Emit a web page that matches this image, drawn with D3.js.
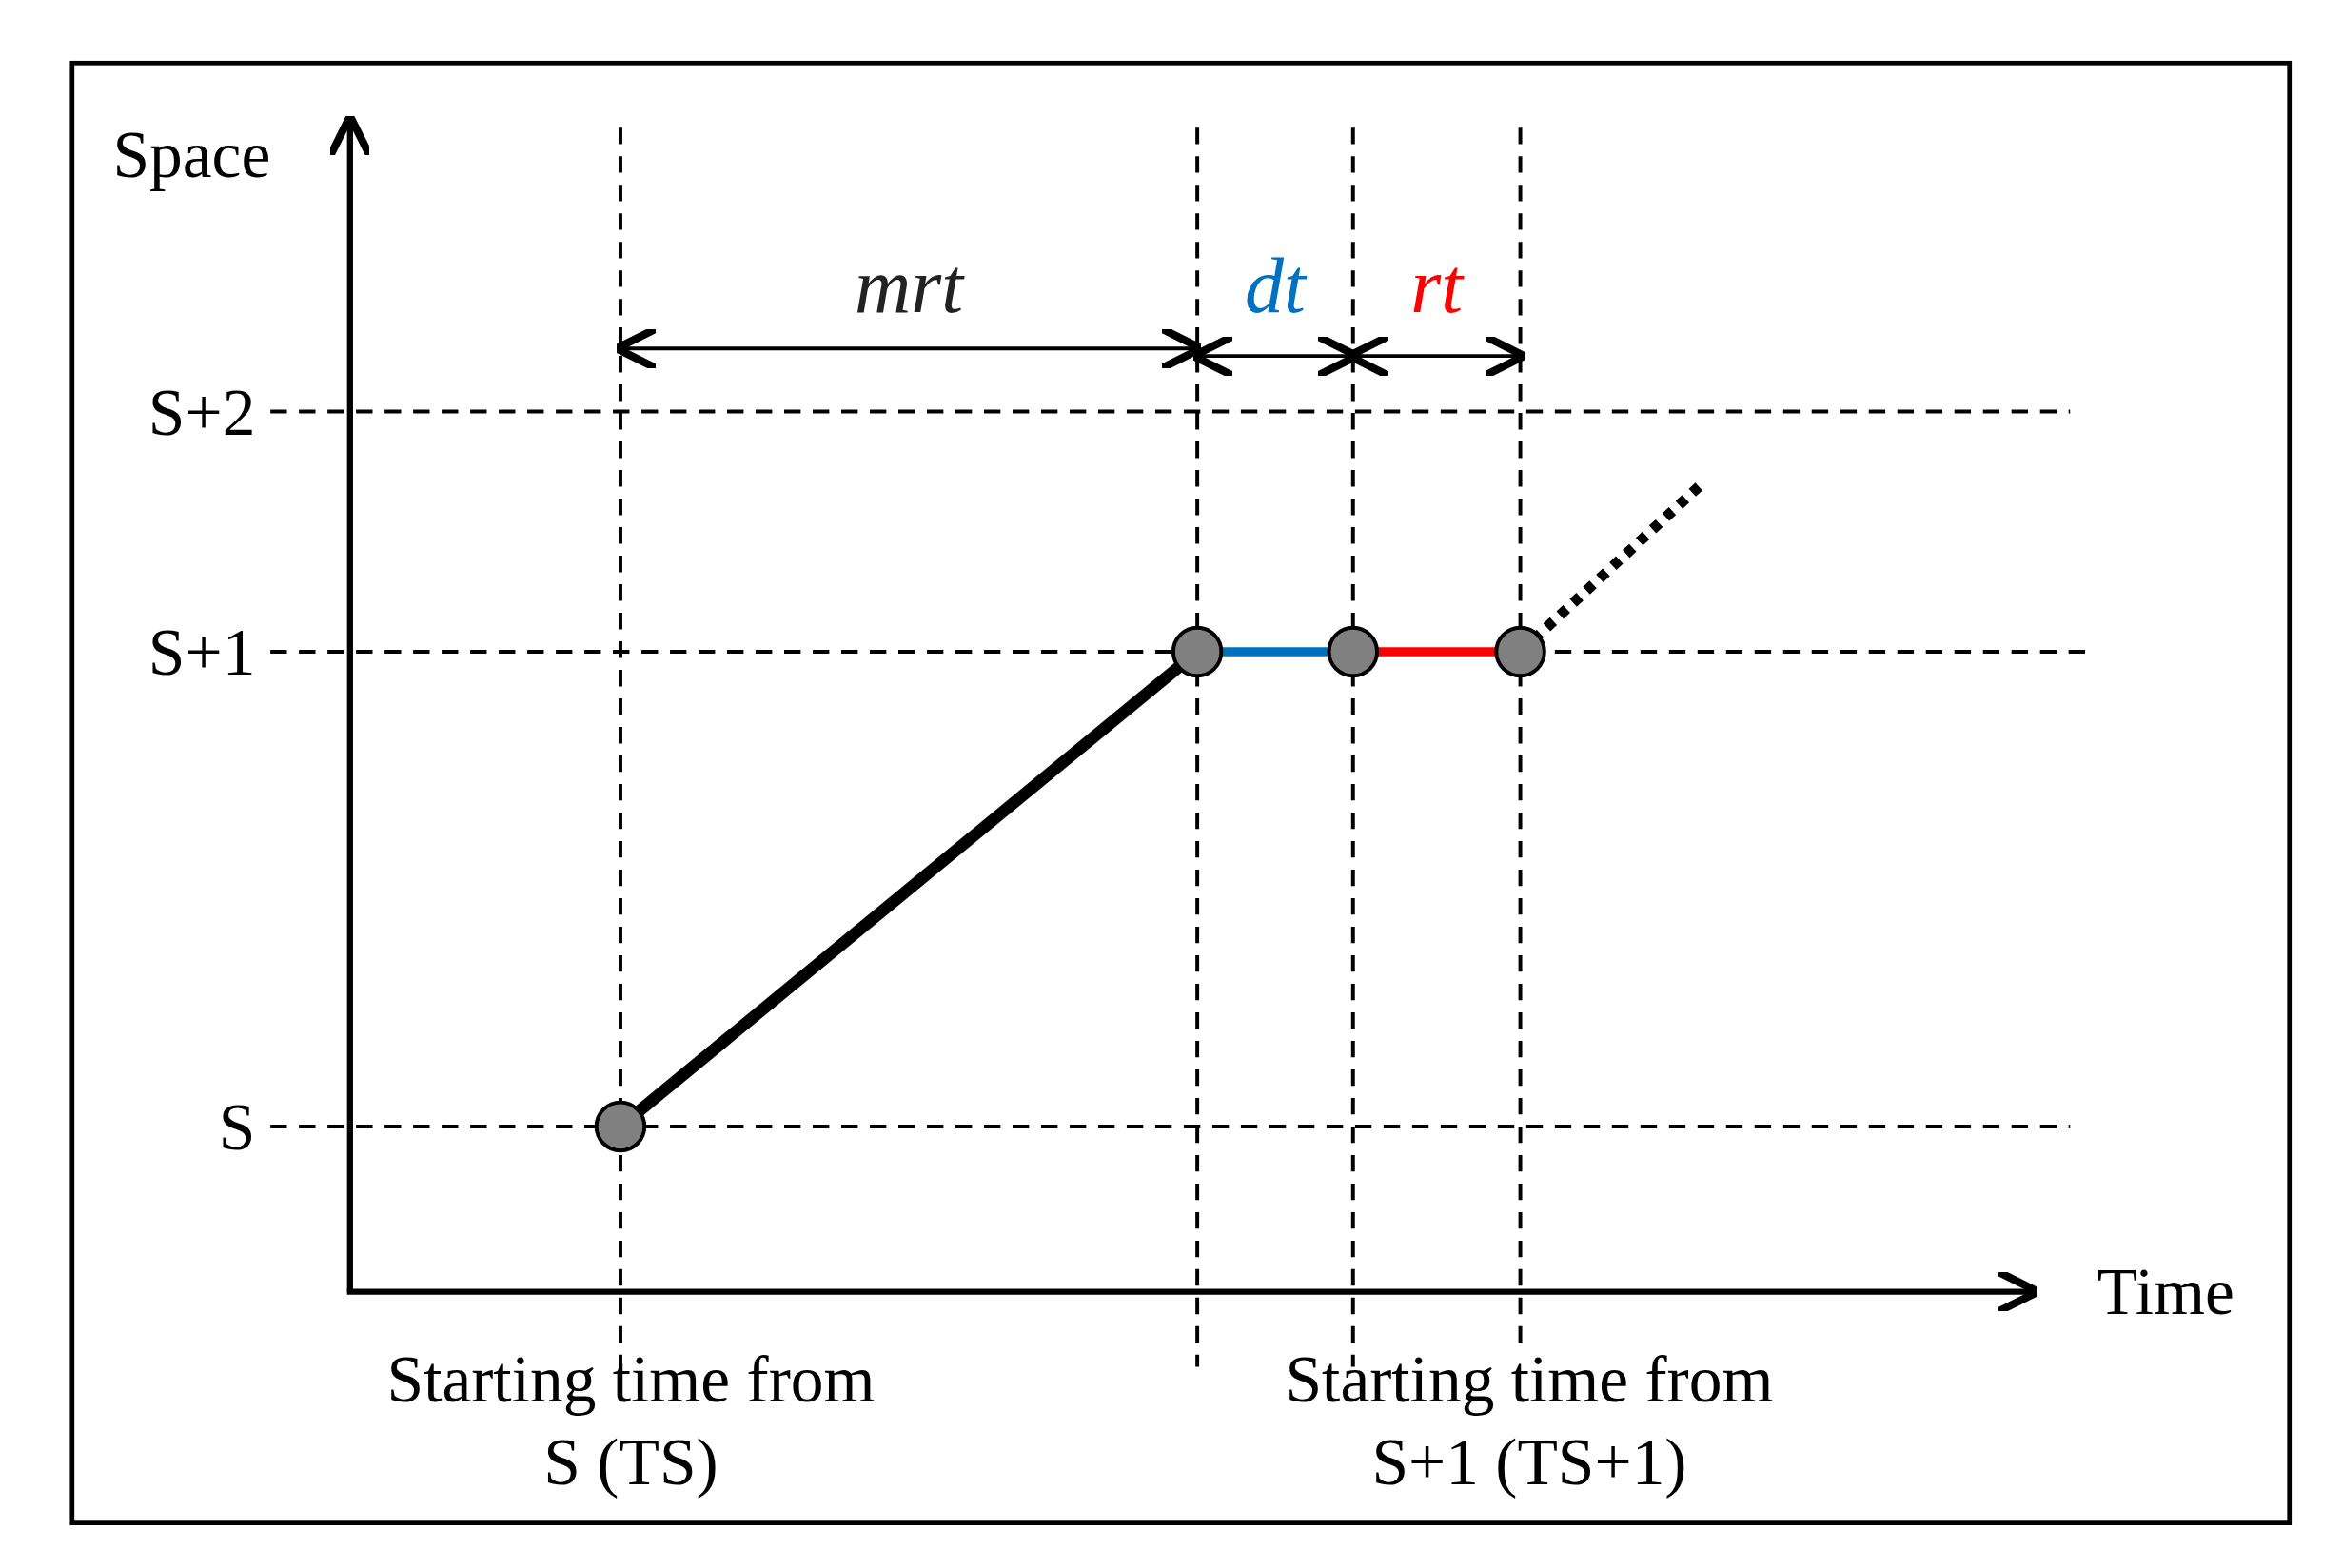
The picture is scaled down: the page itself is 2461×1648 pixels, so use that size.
<!DOCTYPE html>
<html><head><meta charset="utf-8">
<script src="https://cdn.jsdelivr.net/npm/d3@7"></script>
<style>body{margin:0;background:#fff}</style>
</head><body>
<script>
// time instants: TS, TS+mrt, +dt, +rt (TS+1)
const timePoints = [0, 10, 12.7, 15.6];
const spaceLevels = [0, 1, 2];
const spaceLabels = ["S", "S+1", "S+2"];
const trajectory = [[0, 0], [10, 1], [12.7, 1], [15.6, 1]];
const intervals = [
  { label: "mrt", from: 0, to: 10, color: "#222" },
  { label: "dt", from: 10, to: 12.7, color: "#0070c0" },
  { label: "rt", from: 12.7, to: 15.6, color: "#ff0000" }
];
const segColors = ["#000", "#0070c0", "#ff0000"];

const W = 1559, H = 1044;
const svg = d3.select("body").append("svg")
  .attr("width", 2461).attr("height", 1648)
  .attr("viewBox", `0 0 ${W} ${H}`)
  .style("font-family", "'Liberation Serif', 'DejaVu Serif', serif");

const x = d3.scaleLinear().domain([0, 10]).range([413, 797]);
const y = d3.scaleLinear().domain([0, 1, 2]).range([750, 434, 274]);
const x0 = 233, y0 = 860;

svg.append("defs").append("marker").attr("id", "ah")
  .attr("viewBox", "0 0 10 10").attr("refX", 9).attr("refY", 5)
  .attr("markerWidth", 26).attr("markerHeight", 26).attr("orient", "auto-start-reverse")
  .attr("markerUnits", "userSpaceOnUse")
  .append("path").attr("d", "M0,0 L10,5 L0,10").attr("fill", "none").attr("stroke", "#000").attr("stroke-width", 2);

svg.append("rect").attr("x", 48).attr("y", 42).attr("width", 1476).attr("height", 972)
  .attr("fill", "none").attr("stroke", "#000").attr("stroke-width", 3);

// horizontal dashed
const hEnd = [1378, 1390, 1378];
spaceLevels.forEach((s, i) => {
  svg.append("line").attr("x1", 180).attr("x2", hEnd[i]).attr("y1", y(s)).attr("y2", y(s))
    .attr("stroke", "#000").attr("stroke-width", 2.5).attr("stroke-dasharray", "11,8");
  svg.append("text").attr("x", 170).attr("y", y(s)).attr("dy", "0.35em")
    .attr("text-anchor", "end").attr("font-size", 44).text(spaceLabels[i]);
});
// vertical dashed
const vEnd = [935, 910, 910, 900];
timePoints.forEach((t, i) => {
  svg.append("line").attr("x1", x(t)).attr("x2", x(t)).attr("y1", 85).attr("y2", vEnd[i])
    .attr("stroke", "#000").attr("stroke-width", 2.5).attr("stroke-dasharray", "11,8");
});

// axes
svg.append("line").attr("x1", x0).attr("y1", y0).attr("x2", x0).attr("y2", 80)
  .attr("stroke", "#000").attr("stroke-width", 4).attr("marker-end", "url(#ah)");
svg.append("line").attr("x1", x0 - 2).attr("y1", y0).attr("x2", 1354).attr("y2", y0)
  .attr("stroke", "#000").attr("stroke-width", 4).attr("marker-end", "url(#ah)");
svg.append("text").attr("x", 75).attr("y", 118).attr("font-size", 44).text("Space");
svg.append("text").attr("x", 1396).attr("y", 875).attr("font-size", 44).text("Time");

// interval arrows
const ay = [232, 237, 237];
intervals.forEach((d, i) => {
  svg.append("line").attr("x1", x(d.from)).attr("x2", x(d.to)).attr("y1", ay[i]).attr("y2", ay[i])
    .attr("stroke", "#000").attr("stroke-width", 2.5)
    .attr("marker-start", "url(#ah)").attr("marker-end", "url(#ah)");
  svg.append("text").attr("x", (x(d.from) + x(d.to)) / 2).attr("y", 208)
    .attr("text-anchor", "middle").attr("font-size", 52).attr("font-style", "italic")
    .attr("fill", d.color).text(d.label);
});

// trajectory
for (let i = 0; i < trajectory.length - 1; i++) {
  const a = trajectory[i], b = trajectory[i + 1];
  svg.append("line").attr("x1", x(a[0])).attr("y1", y(a[1])).attr("x2", x(b[0])).attr("y2", y(b[1]))
    .attr("stroke", segColors[i]).attr("stroke-width", i === 0 ? 8 : 6);
}
const last = trajectory[trajectory.length - 1];
svg.append("line").attr("x1", x(last[0])).attr("y1", y(last[1]))
  .attr("x2", x(last[0] + 3.15)).attr("y2", y(1.7))
  .attr("stroke", "#000").attr("stroke-width", 7).attr("stroke-dasharray", "6,6");
svg.selectAll("circle.pt").data(trajectory).enter().append("circle").attr("class", "pt")
  .attr("cx", d => x(d[0])).attr("cy", d => y(d[1])).attr("r", 16)
  .attr("fill", "#808080").attr("stroke", "#000").attr("stroke-width", 2.5);

// bottom labels
[[0, "Starting time from", "S (TS)"], [15.6, "Starting time from", "S+1 (TS+1)"]].forEach(([t, a, b]) => {
  const cx = t === 0 ? 420 : 1018;
  svg.append("text").attr("x", cx).attr("y", 933).attr("text-anchor", "middle").attr("font-size", 44).text(a);
  svg.append("text").attr("x", cx).attr("y", 988).attr("text-anchor", "middle").attr("font-size", 44).text(b);
});
</script>
</body></html>
